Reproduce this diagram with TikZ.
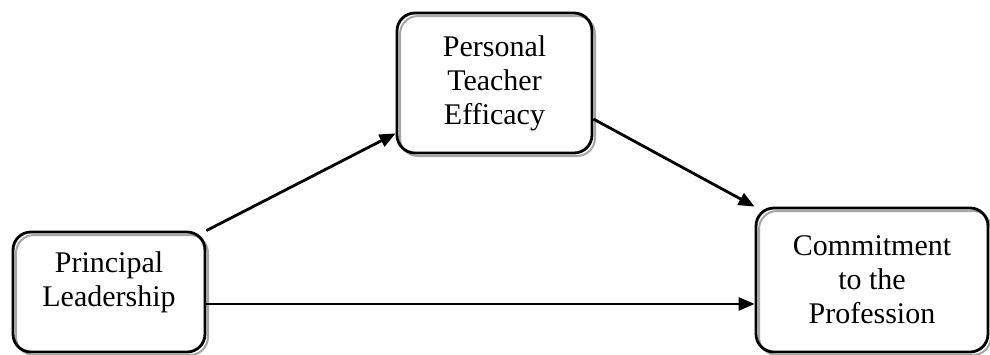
\documentclass[tikz,border=0pt]{standalone}
\usepackage{fontspec}
\setmainfont{Liberation Serif}
\usepackage{tikz}
\usetikzlibrary{arrows.meta, calc}

\begin{document}
\begin{tikzpicture}[x=1pt, y=-1pt,
  factor/.style={rectangle, rounded corners=18pt, draw=black, line width=2.8pt,
    preaction={draw=black!35, line width=2pt,
      transform canvas={shift={(3pt,-3pt)}}},
    align=center, inner sep=0pt,
    font=\fontsize{30}{34}\selectfont},
  path/.style={line width=2.8pt, -{Triangle[length=16pt, width=13pt]}}
]
\useasboundingbox (0,0) rectangle (990,354);
% Boxes
\node[factor, minimum width=192pt, minimum height=120pt, text depth=25pt] (lead) at (109, 292)
  {Principal\\Leadership};
\node[factor, minimum width=195pt, minimum height=140pt] (effic) at (494.5, 83)
  {Personal\\Teacher\\Efficacy};
\node[factor, minimum width=232pt, minimum height=144pt] (commit) at (872, 280)
  {Commitment\\to the\\Profession};

% Paths
\draw[path] (lead.north east) -- (effic.207);
\draw[path] (effic.340) -- (commit.north west);
\draw[path] (lead.353.5) -- (lead.353.5 -| commit.west);
\end{tikzpicture}
\end{document}
